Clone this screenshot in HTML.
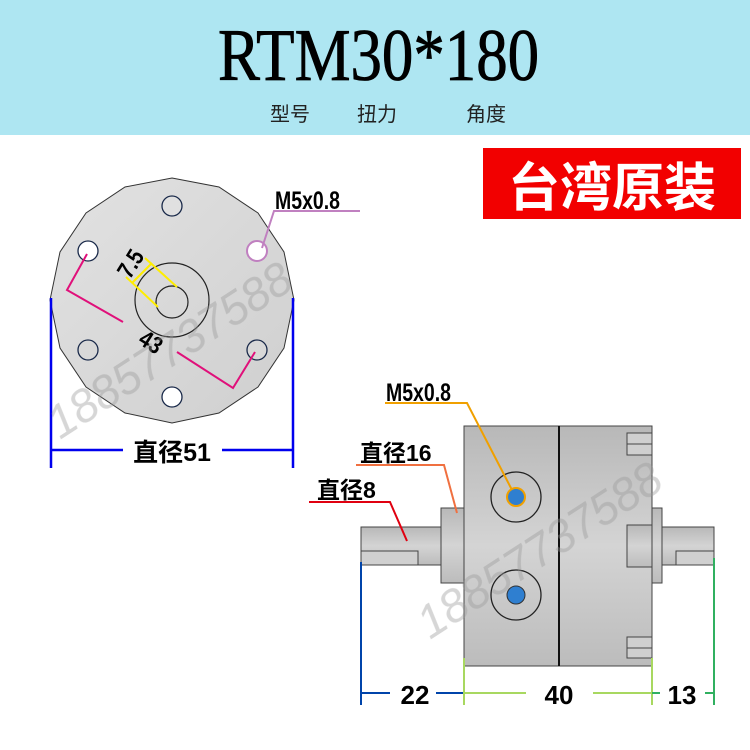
<!DOCTYPE html>
<html><head><meta charset="utf-8"><style>
html,body{margin:0;padding:0;background:#fff}
svg{display:block}
.b{font-family:"Liberation Sans","Noto Sans CJK SC",sans-serif;font-weight:bold}
</style></head><body>
<svg width="750" height="750" viewBox="0 0 750 750" xmlns="http://www.w3.org/2000/svg">
<defs>
<linearGradient id="g" x1="0" y1="0" x2="0" y2="1">
<stop offset="0" stop-color="#b8b8b8"/><stop offset="0.5" stop-color="#d4d4d4"/><stop offset="1" stop-color="#bcbcbc"/></linearGradient>
<linearGradient id="gd" x1="0" y1="0" x2="1" y2="1">
<stop offset="0" stop-color="#e2e2e2"/><stop offset="1" stop-color="#cfcfcf"/></linearGradient>
</defs>
<rect x="0" y="0" width="750" height="135" fill="#aee6f2"/>
<text x="218" y="80" font-family="Liberation Serif,serif" font-size="74" stroke="#000" stroke-width="0.8" transform="translate(218 0) scale(0.85 1) translate(-218 0)">RTM30*180</text>
<text x="270" y="121" font-family="Liberation Sans,'Noto Sans CJK SC',sans-serif" font-size="20" fill="#222">型号</text>
<text x="357" y="121" font-family="Liberation Sans,'Noto Sans CJK SC',sans-serif" font-size="20" fill="#222">扭力</text>
<text x="466" y="121" font-family="Liberation Sans,'Noto Sans CJK SC',sans-serif" font-size="20" fill="#222">角度</text>
<rect x="483" y="148" width="258" height="71" fill="#f20000"/>
<text x="612" y="206" text-anchor="middle" class="b" font-size="52" fill="#fff">台湾原装</text>

<!-- disk -->
<polygon fill="url(#gd)" stroke="#333" stroke-width="1" points="172,178 219,187 258,213 284,252 294,300 284,348 258,387 219,413 172,423 125,413 86,387 60,348 50,300 60,252 86,213 125,187"/>
<g fill="#fff" stroke="#1a2a4a" stroke-width="1.3">
<circle cx="172" cy="206" r="10" fill="#e0e0e0"/><circle cx="88" cy="251" r="10"/><circle cx="257" cy="251" r="10" stroke="#c080c0" stroke-width="2"/>
<circle cx="88" cy="350" r="10" fill="#d8d8d8"/><circle cx="257" cy="350" r="10" fill="#d8d8d8"/><circle cx="172" cy="397" r="10"/>
</g>
<circle cx="172" cy="300" r="37" fill="none" stroke="#222" stroke-width="1.2"/>
<circle cx="172" cy="302" r="16" fill="none" stroke="#222" stroke-width="1.2"/>
<g stroke="#ffee00" stroke-width="2"><line x1="145" y1="258" x2="177" y2="287"/><line x1="126" y1="277" x2="158" y2="307"/><line x1="152" y1="263" x2="132" y2="283"/></g>
<text class="b" font-size="24" transform="translate(130 280) rotate(-58) scale(0.85 1)">7.5</text>
<g stroke="#e0107a" stroke-width="2" fill="none"><polyline points="87,254 67,290 123,322"/><polyline points="255,352 233,388 177,352"/></g>
<text class="b" font-size="24" transform="translate(137 343) rotate(32) scale(0.85 1)">43</text>
<g stroke="#0000ee" stroke-width="2.5"><line x1="51" y1="298" x2="51" y2="468"/><line x1="293" y1="298" x2="293" y2="468"/><line x1="51" y1="450" x2="123" y2="450"/><line x1="222" y1="450" x2="293" y2="450"/></g>
<text x="172" y="461" text-anchor="middle" class="b" font-size="25">直径51</text>
<text x="275" y="209" class="b" font-size="25" transform="translate(275 0) scale(0.78 1) translate(-275 0)">M5x0.8</text>
<polyline points="360,211 274,211 262,248" fill="none" stroke="#c080c0" stroke-width="2"/>

<!-- side view -->
<rect x="361" y="527" width="80" height="38" fill="url(#g)" stroke="#444"/>
<rect x="361" y="551" width="57" height="14" fill="#d0d0d0" stroke="#444"/>
<rect x="441" y="508" width="23" height="75" fill="url(#g)" stroke="#444"/>
<rect x="464" y="426" width="188" height="240" fill="url(#g)" stroke="#444"/>
<line x1="559" y1="426" x2="559" y2="666" stroke="#111" stroke-width="2"/>
<rect x="627" y="433" width="25" height="22" fill="#cfcfcf" stroke="#444"/>
<line x1="627" y1="444" x2="652" y2="444" stroke="#444"/>
<rect x="627" y="637" width="25" height="21" fill="#cfcfcf" stroke="#444"/>
<line x1="627" y1="648" x2="652" y2="648" stroke="#444"/>
<rect x="652" y="508" width="10" height="75" fill="url(#g)" stroke="#444"/>
<rect x="627" y="525" width="25" height="42" fill="url(#g)" stroke="#444"/>
<rect x="662" y="527" width="52" height="38" fill="url(#g)" stroke="#444"/>
<rect x="676" y="551" width="38" height="14" fill="#d0d0d0" stroke="#444"/>
<circle cx="516" cy="497" r="25" fill="none" stroke="#222" stroke-width="1.3"/>
<circle cx="516" cy="497" r="9" fill="#2f7fd0" stroke="#f0a000" stroke-width="2"/>
<circle cx="516" cy="595" r="25" fill="none" stroke="#222" stroke-width="1.3"/>
<circle cx="516" cy="595" r="9" fill="#2f7fd0" stroke="#333"/>

<text x="386" y="401" class="b" font-size="25" transform="translate(386 0) scale(0.78 1) translate(-386 0)">M5x0.8</text>
<polyline points="385,403 467,403 512,490" fill="none" stroke="#f0a000" stroke-width="2"/>
<text x="360" y="461" class="b" font-size="23">直径16</text>
<polyline points="356,465 444,465 457,513" fill="none" stroke="#f07040" stroke-width="2"/>
<text x="317" y="498" class="b" font-size="23">直径8</text>
<polyline points="309,502 390,502 407,541" fill="none" stroke="#e00010" stroke-width="2"/>

<g stroke="#0044aa" stroke-width="2"><line x1="361" y1="562" x2="361" y2="705"/><line x1="361" y1="693" x2="390" y2="693"/><line x1="436" y1="693" x2="463" y2="693"/></g>
<g stroke="#a8d860" stroke-width="2"><line x1="464" y1="658" x2="464" y2="705"/><line x1="652" y1="658" x2="652" y2="705"/><line x1="464" y1="693" x2="526" y2="693"/><line x1="593" y1="693" x2="652" y2="693"/></g>
<g stroke="#30b060" stroke-width="2"><line x1="714" y1="558" x2="714" y2="705"/><line x1="652" y1="693" x2="660" y2="693"/><line x1="705" y1="693" x2="714" y2="693"/></g>
<text x="415" y="704" text-anchor="middle" class="b" font-size="26">22</text>
<text x="559" y="704" text-anchor="middle" class="b" font-size="26">40</text>
<text x="682" y="704" text-anchor="middle" class="b" font-size="26">13</text>

<g font-family="Liberation Sans,sans-serif" font-size="46" fill="#999" opacity="0.4" font-style="italic">
<text transform="translate(60 440) rotate(-33)">18857737588</text>
<text transform="translate(430 640) rotate(-33)">18857737588</text>
</g>
</svg>
</body></html>
